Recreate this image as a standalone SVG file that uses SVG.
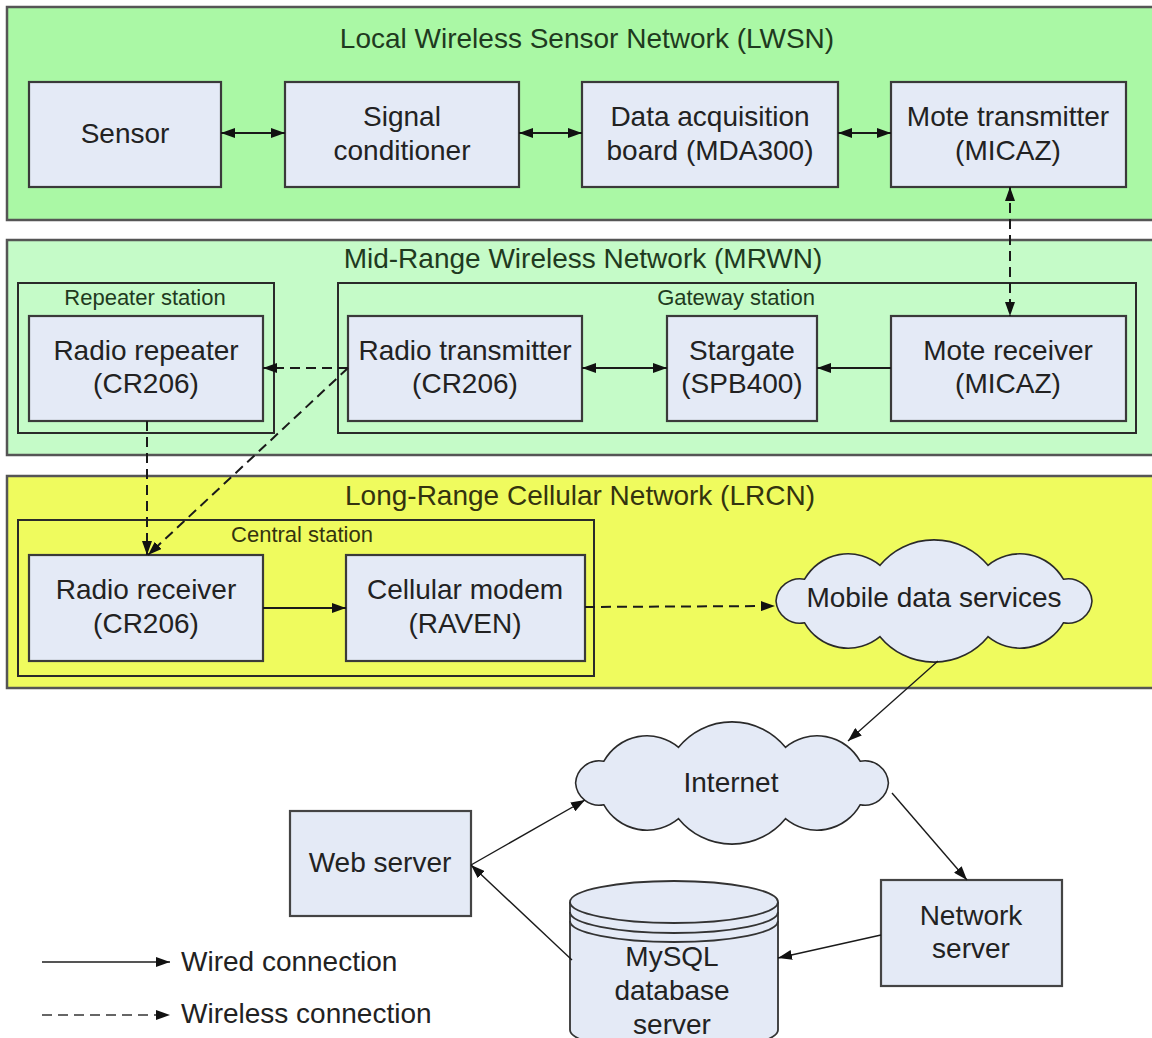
<svg xmlns="http://www.w3.org/2000/svg" width="1152" height="1038" viewBox="0 0 1152 1038">
<style>
.band{stroke:#555;stroke-width:2.5}
.cont{fill:none;stroke:#2a2a2a;stroke-width:2}
.node{fill:#E4EAF6;stroke:#3a3a3a;stroke-width:2.2}
.t{font-family:"Liberation Sans",Arial,sans-serif;font-size:28px;fill:#222;text-anchor:middle}
.title{font-family:"Liberation Sans",Arial,sans-serif;font-size:28px;fill:#1f3a20;text-anchor:middle}
.sub{font-family:"Liberation Sans",Arial,sans-serif;font-size:22px;fill:#1f3a20;text-anchor:middle}
.leg{font-family:"Liberation Sans",Arial,sans-serif;font-size:28px;fill:#222}
.w{fill:none;stroke:#1a1a1a;stroke-width:2}
.wl{fill:none;stroke:#1a1a1a;stroke-width:2;stroke-dasharray:10 6}
.thin{fill:none;stroke:#1a1a1a;stroke-width:1.4}
</style>
<defs>
<marker id="a" viewBox="0 0 14 10" refX="14" refY="5" markerWidth="14" markerHeight="10" markerUnits="userSpaceOnUse" orient="auto-start-reverse"><path d="M0 0 L14 5 L0 10 Z" fill="#111"/></marker>
<path id="cloud" d="M -158 0 A 24 24 0 0 1 -129.4 -21.8 A 50 50 0 0 1 -54 -35.7 A 70 70 0 0 1 54 -35.7 A 50 50 0 0 1 129.4 -21.8 A 24 24 0 0 1 158 0 A 24 24 0 0 1 129.4 21.8 A 50 50 0 0 1 54 35.7 A 70 70 0 0 1 -54 35.7 A 50 50 0 0 1 -129.4 21.8 A 24 24 0 0 1 -158 0 Z"/>
</defs>
<rect width="1152" height="1038" fill="#fff"/>

<g id="lwsn">
<rect class="band" x="7" y="7" width="1150" height="213" fill="#AAF8A5"/>
<text class="title" x="587" y="48">Local Wireless Sensor Network (LWSN)</text>
</g>
<g id="mrwn">
<rect class="band" x="7" y="240" width="1150" height="215" fill="#C5FBC8"/>
<text class="title" x="583" y="268">Mid-Range Wireless Network (MRWN)</text>
</g>
<g id="lrcn">
<rect class="band" x="7" y="476" width="1150" height="212" fill="#EFFB5E"/>
<text class="title" x="580" y="505" style="fill:#33330f">Long-Range Cellular Network (LRCN)</text>
</g>

<g id="repeater-station">
<rect class="cont" x="18" y="283" width="256" height="150"/>
<text class="sub" x="145" y="305">Repeater station</text>
</g>
<g id="gateway-station">
<rect class="cont" x="338" y="283" width="798" height="150"/>
<text class="sub" x="736" y="305">Gateway station</text>
</g>
<g id="central-station">
<rect class="cont" x="18" y="520" width="576" height="156"/>
<text class="sub" x="302" y="542" style="fill:#33330f">Central station</text>
</g>

<g id="sensor"><rect class="node" x="29" y="82" width="192" height="105"/><text class="t" x="125" y="143">Sensor</text></g>
<g id="signal-conditioner"><rect class="node" x="285" y="82" width="234" height="105"/><text class="t" x="402" y="126">Signal</text><text class="t" x="402" y="160">conditioner</text></g>
<g id="daq-board"><rect class="node" x="582" y="82" width="256" height="105"/><text class="t" x="710" y="126">Data acquisition</text><text class="t" x="710" y="160">board (MDA300)</text></g>
<g id="mote-transmitter"><rect class="node" x="891" y="82" width="235" height="105"/><text class="t" x="1008" y="126">Mote transmitter</text><text class="t" x="1008" y="160">(MICAZ)</text></g>

<g id="radio-repeater"><rect class="node" x="29" y="316" width="234" height="105"/><text class="t" x="146" y="360">Radio repeater</text><text class="t" x="146" y="393">(CR206)</text></g>
<g id="radio-transmitter"><rect class="node" x="348" y="316" width="234" height="105"/><text class="t" x="465" y="360">Radio transmitter</text><text class="t" x="465" y="393">(CR206)</text></g>
<g id="stargate"><rect class="node" x="667" y="316" width="150" height="105"/><text class="t" x="742" y="360">Stargate</text><text class="t" x="742" y="393">(SPB400)</text></g>
<g id="mote-receiver"><rect class="node" x="891" y="316" width="235" height="105"/><text class="t" x="1008" y="360">Mote receiver</text><text class="t" x="1008" y="393">(MICAZ)</text></g>

<g id="radio-receiver"><rect class="node" x="29" y="555" width="234" height="106"/><text class="t" x="146" y="599">Radio receiver</text><text class="t" x="146" y="633">(CR206)</text></g>
<g id="cellular-modem"><rect class="node" x="346" y="555" width="239" height="106"/><text class="t" x="465" y="599">Cellular modem</text><text class="t" x="465" y="633">(RAVEN)</text></g>

<g id="mobile-data-services"><use href="#cloud" transform="translate(934 601)" fill="#E4EAF6" stroke="#2a2a2a" stroke-width="1.6"/><text class="t" x="934" y="607">Mobile data services</text></g>
<g id="internet"><use href="#cloud" transform="translate(732 783) scale(0.99 1)" fill="#E4EAF6" stroke="#2a2a2a" stroke-width="1.6"/><text class="t" x="731" y="792">Internet</text></g>

<g id="web-server"><rect class="node" x="290" y="811" width="181" height="105" style="stroke:#444"/><text class="t" x="380" y="872">Web server</text></g>
<g id="network-server"><rect class="node" x="881" y="880" width="181" height="106" style="stroke:#444"/><text class="t" x="971" y="925">Network</text><text class="t" x="971" y="958">server</text></g>

<g id="mysql-db">
<path d="M570 902 L570 1030 A104 21 0 0 0 778 1030 L778 902" fill="#E4EAF6" stroke="#333" stroke-width="1.8"/>
<ellipse cx="674" cy="902" rx="104" ry="21" fill="#E4EAF6" stroke="#333" stroke-width="1.8"/>
<path d="M570 912 A104 21 0 0 0 778 912 M570 921 A104 21 0 0 0 778 921" fill="none" stroke="#333" stroke-width="1.8"/>
<text class="t" x="672" y="966">MySQL</text>
<text class="t" x="672" y="1000">database</text>
<text class="t" x="672" y="1034">server</text>
</g>

<g id="connectors">
<path class="w" d="M221 133 L285 133" marker-start="url(#a)" marker-end="url(#a)"/>
<path class="w" d="M519 133 L582 133" marker-start="url(#a)" marker-end="url(#a)"/>
<path class="w" d="M838 133 L891 133" marker-start="url(#a)" marker-end="url(#a)"/>
<path class="wl" d="M1010 187 L1010 316" marker-start="url(#a)" marker-end="url(#a)"/>
<path class="w" d="M891 368 L817 368" marker-end="url(#a)"/>
<path class="w" d="M582 368 L667 368" marker-start="url(#a)" marker-end="url(#a)"/>
<path class="wl" d="M348 368 L263 368" marker-end="url(#a)"/>
<path class="wl" d="M348 368 L148 555" marker-end="url(#a)"/>
<path class="wl" d="M147 421 L147 555" marker-end="url(#a)"/>
<path class="w" d="M263 608 L346 608" marker-end="url(#a)"/>
<path class="wl" d="M585 607 L775 606" marker-end="url(#a)"/>
<path class="thin" d="M938 661 L848 741" marker-end="url(#a)"/>
<path class="thin" d="M471 865 L585 800" marker-end="url(#a)"/>
<path class="thin" d="M572 960 L471 865" marker-end="url(#a)"/>
<path class="thin" d="M892 793 L967 880" marker-end="url(#a)"/>
<path class="thin" d="M881 935 L778 958" marker-end="url(#a)"/>
</g>

<g id="legend">
<path d="M42 962 L170 962" fill="none" stroke="#555" stroke-width="2" marker-end="url(#a)"/>
<text class="leg" x="181" y="971">Wired connection</text>
<path d="M42 1015 L170 1015" fill="none" stroke="#666" stroke-width="2" stroke-dasharray="10 6" marker-end="url(#a)"/>
<text class="leg" x="181" y="1023">Wireless connection</text>
</g>
</svg>
